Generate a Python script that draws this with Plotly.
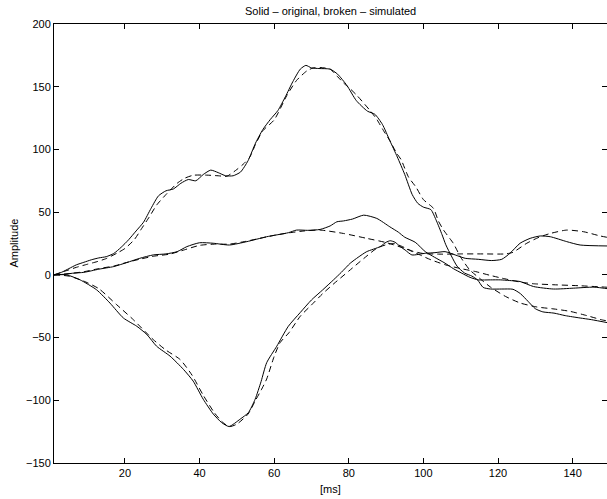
import plotly.graph_objects as go

# ---- data ----
a_orig_x = [1, 3, 5, 7, 9, 11, 13, 15, 17, 19, 21, 23, 25, 27, 29, 31, 33, 35, 37, 39, 41, 43, 45, 47, 49, 51, 53, 55, 57, 59, 61, 63, 65, 67, 68.5, 70, 72, 75, 77, 79.5, 82, 85, 87, 89, 91, 93, 95, 97, 98.5, 100, 102, 103.5, 105, 106, 107.5, 109, 111, 113, 114.5, 116, 118, 121, 124, 126, 128, 130, 132, 135, 138, 142, 145, 150]
a_orig_y = [0, 2, 5, 8, 10, 12, 13.5, 14.5, 17, 22, 28, 35, 42, 53, 63, 67, 68.5, 73, 76, 75, 80, 83.5, 81.5, 79, 79, 82, 91, 105, 116, 124, 131, 142, 154, 164, 167, 165, 164.5, 164, 160, 151, 139, 130.5, 128, 120, 107, 94, 80, 64, 57, 54, 52, 43, 32, 24, 15, 7, 1.5, -1, -4, -10, -11.3, -11.3, -11.5, -15, -21, -27, -29.5, -30.5, -32.5, -34.4, -35.7, -38.5]

a_sim_x = [1, 4, 7, 10, 12.5, 15, 18, 20, 22.5, 24.5, 26.5, 28.5, 31, 34, 36, 38.3, 42, 45, 47.3, 50, 52, 53.5, 55, 57, 60, 63.4, 66, 68.8, 70.5, 72.3, 75, 77, 78.6, 80.5, 82.2, 85.7, 87.5, 89.3, 91, 92.9, 94, 96, 98, 100, 102.7, 104, 105.4, 108, 110, 112.4, 115, 118, 122, 126, 130.4, 135, 139.3, 143.8, 148, 150]
a_sim_y = [0, 3, 6, 8.5, 10.5, 13, 17.5, 21, 28, 37, 46, 55.6, 64, 73, 77, 79.4, 79.5, 79, 78.6, 84, 89, 94, 104, 115, 123.5, 143, 155, 162.7, 165, 165.3, 164, 158, 153, 148, 143, 131, 124, 115, 107, 96.6, 92, 78, 70, 60, 53, 43, 35.7, 25.2, 14, 4, -2.6, -9.8, -17.2, -22.5, -25.6, -27.2, -29.1, -32.5, -36, -37]

b_orig_x = [1, 4, 6, 9, 13, 17, 20.5, 24, 27.6, 31, 34, 36.6, 40, 43.7, 48, 52.7, 58, 63.8, 66, 69, 72.3, 75, 76.8, 78.6, 81, 84, 87.5, 91, 93.3, 95, 97.8, 100.5, 103, 105.8, 108, 110.3, 112.5, 114.7, 118, 120.6, 123, 125.9, 129.5, 134.9, 140.3, 145.7, 150]
b_orig_y = [0, 0.5, 1.3, 2, 4.5, 6.6, 9.8, 13.2, 15.9, 16.7, 18.5, 22.5, 25.6, 25.2, 23.8, 26.5, 30.4, 33.6, 35.7, 35.5, 36.2, 39, 42.3, 43, 44.5, 47.6, 45, 38.3, 34, 30, 26, 18.5, 14, 9.3, 5, 1.3, -2, -4, -4, -4, -4.5, -5.3, -9.3, -11.3, -10.6, -9.8, -11.3]

b_sim_x = [1, 5, 9, 13, 17, 20, 24, 28, 32, 36, 40, 44, 48, 52, 56, 60, 64, 68, 72.3, 78.6, 84.8, 90.2, 95.6, 99, 102, 106, 110, 114, 118, 121, 126, 129.5, 135, 142, 150]
b_sim_y = [0, 1, 2.5, 5, 7, 9.5, 12.5, 15, 16.5, 20, 23.5, 24.5, 24.5, 26.5, 29, 31.5, 33.5, 35, 35.7, 33, 29.1, 25.6, 20.4, 16, 12, 7.9, 5, 2.6, -0.5, -2.6, -5.8, -7.1, -7.9, -8.7, -10]

c_orig_x = [1, 4.4, 8, 12.4, 16, 19.6, 23.2, 25.9, 28.5, 32.1, 35.7, 38.3, 41, 43.7, 45.9, 47.9, 50.9, 53.1, 54.9, 56.5, 58, 60.7, 63.8, 67, 70, 73, 75.9, 78, 80.4, 82.5, 84.8, 88.4, 90, 91.1, 92.4, 93.8, 95.1, 96.9, 100.5, 103.1, 105.8, 108.5, 111.2, 114.7, 118.3, 121, 123.2, 125.9, 128.6, 131.3, 134, 138.4, 142, 150]
c_orig_y = [0, 0, -4, -11.9, -22.5, -34.4, -41, -47.6, -56.9, -64.8, -75.4, -84.7, -99.2, -111, -117.7, -120.9, -115, -109.8, -99.2, -85, -70, -56.9, -41, -30, -20, -12, -4, 2, 9.3, 14, 18.5, 22.5, 26, 27.2, 26, 22.5, 19.8, 15.9, 17.2, 17.7, 18.5, 15.9, 13.2, 12.4, 11.4, 12.4, 17.2, 25.2, 29.1, 31, 30.4, 26.5, 23.8, 23]

c_sim_x = [1, 5, 9, 13, 17.8, 22, 27.6, 31, 34.8, 38, 41, 44, 46, 48, 50, 53, 55, 56.5, 58, 60, 61.6, 64, 67, 70, 73, 76, 80, 84, 87.5, 90, 92, 94, 97, 100, 105, 110, 116, 122, 124, 127.7, 131, 134, 138.4, 142.9, 147.4, 150]
c_sim_y = [0, -1, -5, -11, -23.8, -35, -51.6, -60, -67.5, -80, -96, -110, -117, -121, -119, -111, -100, -92, -83, -65, -54, -46, -33, -24, -15, -7, 3, 13, 21.2, 24, 25, 23, 19, 17, 16.5, 16.7, 16.7, 16.7, 18, 25.2, 30, 33, 35.7, 34.4, 31, 29.5]

x_ticks = [20, 40, 60, 80, 100, 120, 140]
y_ticks = [-150, -100, -50, 0, 50, 100, 150, 200]

FONT = "Liberation Sans, Arial, Helvetica, sans-serif"

fig = go.Figure()
series = [
    (a_orig_x, a_orig_y, "solid"), (a_sim_x, a_sim_y, "6px,4px"),
    (b_orig_x, b_orig_y, "solid"), (b_sim_x, b_sim_y, "6px,4px"),
    (c_orig_x, c_orig_y, "solid"), (c_sim_x, c_sim_y, "6px,4px"),
]
for xs, ys, dash in series:
    fig.add_trace(go.Scatter(x=xs, y=ys, mode="lines",
                             line=dict(color="black", width=1, dash=dash, shape="spline", smoothing=0.6),
                             showlegend=False, hoverinfo="skip"))
fig.add_trace(go.Scatter(x=[None], y=[None], yaxis="y2", showlegend=False, hoverinfo="skip"))

fig.update_layout(
    width=607, height=499,
    margin=dict(l=54, r=0, t=24, b=36),
    paper_bgcolor="white", plot_bgcolor="white",
    font=dict(family=FONT, size=11, color="black"),
    xaxis=dict(range=[1, 149.2], tickvals=x_ticks, ticks="inside", ticklen=5,
               tickcolor="black", showline=True, linecolor="black", linewidth=1,
               mirror="ticks", showgrid=False, zeroline=False,
               tickfont=dict(size=11, family=FONT)),
    yaxis=dict(range=[-150, 200], tickvals=y_ticks, ticks="inside", ticklen=5,
               tickcolor="black", showline=True, linecolor="black", linewidth=1,
               mirror=False, showgrid=False, zeroline=False,
               tickfont=dict(size=11, family=FONT)),
    yaxis2=dict(range=[-150, 200], tickvals=y_ticks, ticks="inside", ticklen=5,
                tickcolor="black", overlaying="y", side="right", showline=False,
                showticklabels=False, showgrid=False, zeroline=False),
    annotations=[
        dict(text="Solid \u2013 original, broken \u2013 simulated", x=0.5, y=1,
             xref="paper", yref="paper", showarrow=False, font=dict(size=11, family=FONT),
             yanchor="middle", xanchor="center", yshift=13),
        dict(text="[ms]", x=0.5, y=0, xref="paper", yref="paper", showarrow=False,
             yshift=-26, yanchor="middle", font=dict(size=11, family=FONT)),
        dict(text="Amplitude", x=0, y=0.5, xref="paper", yref="paper", showarrow=False,
             xshift=-41, textangle=-90, xanchor="center", font=dict(size=11, family=FONT)),
    ],
)

fig.write_html("out.html", config={"displayModeBar": False},
               post_script="document.body.style.margin='0';")
